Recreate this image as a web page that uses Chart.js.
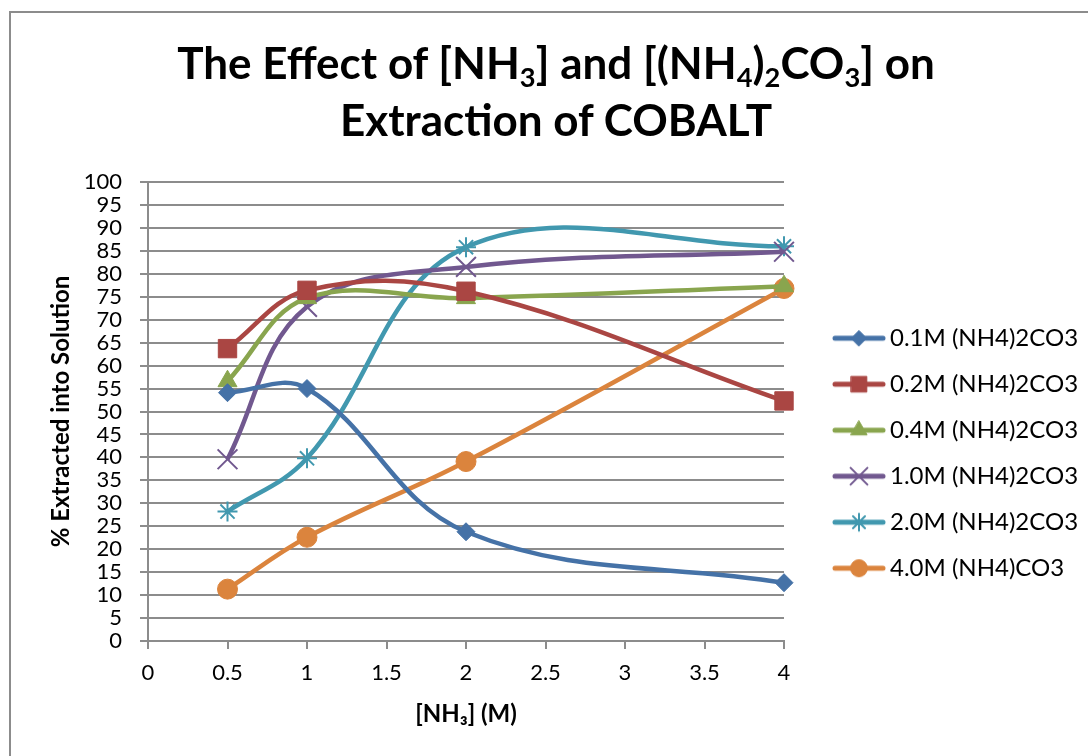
<!DOCTYPE html>
<html>
<head>
<meta charset="utf-8">
<script src="https://cdn.jsdelivr.net/npm/chart.js@4"></script>
<style>
  html, body { margin: 0; padding: 0; background: #fff; overflow: hidden; width: 1088px; height: 756px; }
  #frame { position: absolute; left: 9px; top: 11px; width: 1200px; height: 800px;
           border-left: 2px solid #8c8c8c; border-top: 2px solid #8c8c8c; }
  #chart { position: absolute; left: 0; top: 0; }
  #title { position: absolute; left: 0; top: 34px; width: 1112px; text-align: center;
           font-family: Lato, sans-serif; font-weight: bold; font-size: 44px; line-height: 57px;
           color: #000; white-space: nowrap; }
  #title sub { font-size: 0.62em; vertical-align: -0.28em; line-height: 0; }
</style>
</head>
<body>
<div id="frame"></div>
<canvas id="chart" width="1088" height="756"></canvas>
<div id="title">The Effect of [NH<sub>3</sub>] and [(NH<sub>4</sub>)<sub>2</sub>CO<sub>3</sub>] on<br>Extraction of COBALT</div>
<script>
// Data
const nh3 = [0.5, 1, 2, 4];
const seriesNames = ['0.1M (NH4)2CO3', '0.2M (NH4)2CO3', '0.4M (NH4)2CO3',
                     '1.0M (NH4)2CO3', '2.0M (NH4)2CO3', '4.0M (NH4)CO3'];
const co01 = [54.1, 55.0, 23.8, 12.7];
const co02 = [63.7, 76.4, 76.2, 52.3];
const co04 = [56.6, 74.7, 74.7, 77.3];
const co10 = [39.6, 72.8, 81.5, 84.8];
const co20 = [28.2, 39.8, 85.8, 86.0];
const co40 = [11.3, 22.6, 39.1, 76.8];
const allSeries = [co01, co02, co04, co10, co20, co40];
const xMin = 0, xMax = 4, xStep = 0.5;
const yMin = 0, yMax = 100, yStep = 5;

// Styles
const colors = ['#4572A7', '#AA4643', '#89A54E', '#71588F', '#4198AF', '#DB843D'];
const markers = ['rectRot', 'rect', 'triangle', 'crossRot', 'star', 'circle'];
const markerRadius = [9, 13, 11, 14, 10, 10];
const markerBorder = [1, 1, 1, 2, 2, 1];
const gridColor = '#8c8c8c';

Chart.defaults.font.family = 'Lato, sans-serif';
Chart.defaults.color = '#000';

// legend swatch: line with marker in the middle
function makeSwatch(i) {
    const c = document.createElement('canvas');
    c.width = 88; c.height = 26;
    const ctx = c.getContext('2d');
    ctx.strokeStyle = colors[i];
    ctx.fillStyle = colors[i];
    ctx.lineWidth = 5;
    ctx.lineCap = 'round';
    ctx.beginPath();
    ctx.moveTo(37, 13);
    ctx.lineTo(85, 13);
    ctx.stroke();
    ctx.lineWidth = markerBorder[i];
    if (Chart.helpers && Chart.helpers.drawPoint) {
        Chart.helpers.drawPoint(ctx, {
            pointStyle: markers[i], radius: markerRadius[i] * 0.85,
            borderWidth: markerBorder[i], rotation: 0
        }, 61, 13);
    }
    return c;
}
const swatches = colors.map((c, i) => makeSwatch(i));

// let the legend box run to the canvas edge so long labels aren't clipped
const legendToEdge = {
    id: 'legendToEdge',
    afterLayout(chart) {
        if (chart.legend) {
            chart.legend.right = chart.width;
            chart.legend.width = chart.legend.right - chart.legend.left;
        }
    }
};

const datasets = allSeries.map((vals, i) => ({
    label: seriesNames[i],
    data: vals.map((v, k) => ({ x: nh3[k], y: v })),
    borderColor: colors[i],
    backgroundColor: colors[i],
    borderWidth: 4.5,
    tension: 0.38,
    pointStyle: markers[i],
    pointRadius: markerRadius[i],
    pointBorderWidth: markerBorder[i],
    pointBorderColor: colors[i],
    pointBackgroundColor: colors[i],
    clip: false
}));

new Chart(document.getElementById('chart'), {
    type: 'line',
    data: { datasets },
    plugins: [legendToEdge],
    options: {
        responsive: false,
        animation: false,
        devicePixelRatio: 1,
        layout: { padding: { left: 10, top: 182, right: 24, bottom: 0 } },
        plugins: {
            title: { display: false },
            tooltip: { enabled: false },
            legend: {
                position: 'right',
                align: 'center',
                fullSize: false,
                maxWidth: 280,
                title: { display: true, text: '', font: { size: 12 }, padding: { top: 69, bottom: 0 } },
                labels: {
                    usePointStyle: true,
                    pointStyleWidth: 72,
                    padding: 22,
                    color: '#000',
                    font: { size: 24 },
                    generateLabels(chart) {
                        const items = Chart.defaults.plugins.legend.labels.generateLabels(chart);
                        items.forEach((it, i) => { it.pointStyle = swatches[i]; });
                        return items;
                    }
                }
            }
        },
        scales: {
            x: {
                type: 'linear',
                min: xMin, max: xMax,
                afterFit(scale) { scale.height = 115; },
                ticks: { stepSize: xStep, autoSkip: false, maxRotation: 0, padding: 11,
                         font: { size: 22 }, color: '#000',
                         callback: (v) => String(v) },
                grid: { drawOnChartArea: false, drawTicks: true, tickLength: 8,
                        color: gridColor, lineWidth: 2 },
                border: { color: gridColor, width: 2 },
                title: { display: true, text: '[NH\u2083] (M)', font: { size: 24, weight: 'bold' },
                         color: '#000', padding: { top: 0, bottom: 27 } }
            },
            y: {
                min: yMin, max: yMax,
                afterFit(scale) { scale.width = 138; },
                ticks: { stepSize: yStep, autoSkip: false, padding: 18,
                         font: { size: 22 }, color: '#000' },
                grid: { drawOnChartArea: true, drawTicks: true, tickLength: 8,
                        color: gridColor, lineWidth: 2 },
                border: { color: gridColor, width: 2 },
                title: { display: true, text: '% Extracted into Solution', font: { size: 24, weight: 'bold' },
                         color: '#000', padding: { top: 37, bottom: 0 } }
            }
        }
    }
});
</script>
</body>
</html>
